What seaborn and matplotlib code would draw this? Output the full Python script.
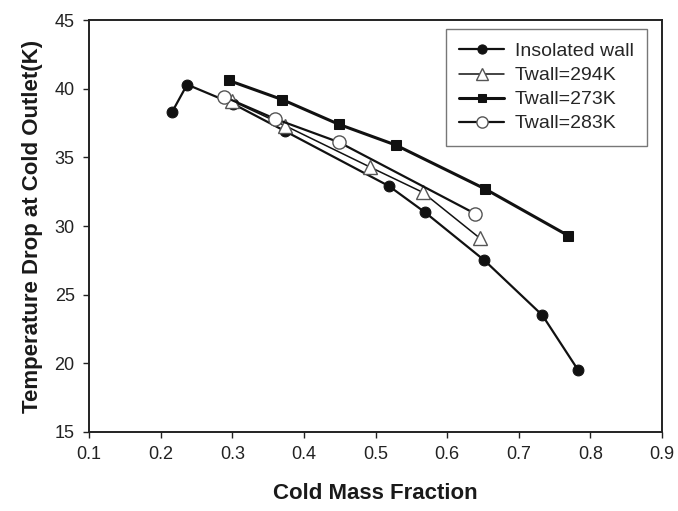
import numpy as np
import pandas as pd
import matplotlib
matplotlib.use('Agg')
import matplotlib.pyplot as plt
import seaborn as sns

# dados
x_insolated = [0.216, 0.237, 0.301, 0.374, 0.519, 0.569, 0.652, 0.733, 0.783]
y_insolated = [38.3, 40.3, 38.9, 36.9, 32.9, 31.0, 27.5, 23.5, 19.5]

x_294 = [0.300, 0.374, 0.492, 0.566, 0.646]
y_294 = [39.1, 37.3, 34.3, 32.45, 29.1]

x_273 = [0.295, 0.370, 0.449, 0.528, 0.653, 0.769]
y_273 = [40.6, 39.2, 37.4, 35.9, 32.7, 29.3]

x_283 = [0.289, 0.360, 0.449, 0.639]
y_283 = [39.4, 37.8, 36.1, 30.9]

sns.set_style('ticks')
plt.rcParams['font.family'] = ['Liberation Sans', 'DejaVu Sans']

fig = plt.figure(figsize=(6.78, 5.11), dpi=100)
ax = fig.add_axes([89 / 678, 1 - 432 / 511, (662 - 89) / 678, (432 - 20) / 511])

sns.lineplot(x=x_insolated, y=y_insolated, ax=ax, color='#111111', lw=1.6,
             marker='o', markersize=7.8, markerfacecolor='#111111',
             markeredgecolor='#111111', label='Insolated wall', sort=False)
sns.lineplot(x=x_294, y=y_294, ax=ax, color='#111111', lw=1.1,
             marker='^', markersize=9.5, markerfacecolor='white',
             markeredgecolor='#555555', markeredgewidth=1.0,
             label='Twall=294K', sort=False)
sns.lineplot(x=x_273, y=y_273, ax=ax, color='#111111', lw=2.2,
             marker='s', markersize=7.2, markerfacecolor='#111111',
             markeredgecolor='#111111', label='Twall=273K', sort=False)
sns.lineplot(x=x_283, y=y_283, ax=ax, color='#111111', lw=1.6,
             marker='o', markersize=9.5, markerfacecolor='white',
             markeredgecolor='#555555', markeredgewidth=1.0,
             label='Twall=283K', sort=False)

ax.set_xlim(0.1, 0.9)
ax.set_ylim(15, 45)
ax.set_xticks(np.arange(0.1, 0.91, 0.1))
ax.set_xticklabels(['0.1', '0.2', '0.3', '0.4', '0.5', '0.6', '0.7', '0.8', '0.9'])
ax.set_yticks([15, 20, 25, 30, 35, 40, 45])
ax.tick_params(axis='both', direction='out', length=4.3, width=1, labelsize=13,
               colors='#222222', pad=6)
for s in ax.spines.values():
    s.set_linewidth(1.4)
    s.set_color('#222222')

ax.set_xlabel('Cold Mass Fraction', fontsize=16, fontweight='bold', labelpad=14,
              color='#1a1a1a')
ax.set_ylabel('Temperature Drop at Cold Outlet(K)', fontsize=16, fontweight='bold',
              labelpad=8, color='#1a1a1a')

leg = ax.legend(loc='upper right', bbox_to_anchor=(0.974, 0.978), fontsize=14,
                frameon=True, fancybox=False, handlelength=2.3, borderpad=0.7,
                labelspacing=0.33, handletextpad=0.55, borderaxespad=0,
                markerscale=0.85)
leg.get_frame().set_edgecolor('#555555')
leg.get_frame().set_linewidth(1.0)

fig.savefig('out.png', dpi=100)
